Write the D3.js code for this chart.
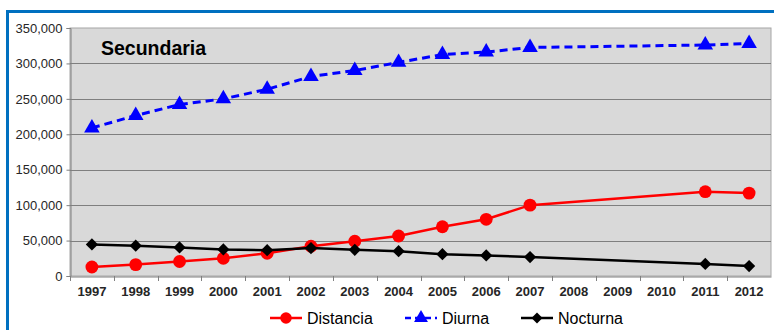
<!DOCTYPE html>
<html>
<head>
<meta charset="utf-8">
<script src="https://cdn.jsdelivr.net/npm/d3@7/dist/d3.min.js"></script>
<style>
  html, body { margin: 0; padding: 0; background: #fff; }
  svg { display: block; font-family: "Liberation Sans", Arial, sans-serif; }
</style>
</head>
<body>
<svg id="chart" width="774" height="330"></svg>
<script>
// Matrícula de secundaria por modalidad, 1997–2012
const years = ["1997","1998","1999","2000","2001","2002","2003","2004","2005","2006","2007","2008","2009","2010","2011","2012"];
const distancia = [12700, 16100, 20400, 25000, 32000, 42000, 49000, 56500, 69500, 80000, 100000, null, null, null, 119000, 117000];
const diurna    = [209000, 226500, 242000, 250000, 263500, 281500, 290000, 301500, 312500, 316000, 322500, null, null, null, 326000, 328000];
const nocturna  = [44500, 42800, 40300, 37500, 36500, 39500, 37000, 35000, 30800, 29000, 26800, null, null, null, 17000, 14000];
const yTicks = [0, 50000, 100000, 150000, 200000, 250000, 300000, 350000];

// Square rotated 45° gives an even-sided diamond marker
const rotatedSquare = {
  draw(ctx, size) {
    const r = Math.sqrt(size / 2);
    ctx.moveTo(0, -r); ctx.lineTo(r, 0); ctx.lineTo(0, r); ctx.lineTo(-r, 0); ctx.closePath();
  }
};

const series = [
  { name: "Distancia", values: distancia, color: "#ff0000", dash: null, symbol: d3.symbolCircle, size: 130 },
  { name: "Diurna",    values: diurna,    color: "#0000ff", dash: "8,5", symbol: d3.symbolTriangle, size: 105 },
  { name: "Nocturna",  values: nocturna,  color: "#000000", dash: null, symbol: rotatedSquare, size: 75 }
];

const svg = d3.select("#chart");
const m = { left: 70, top: 28, right: 771, bottom: 276 };

// Frame around the panel
svg.append("path")
  .attr("d", `M7.5,330 L7.5,11.5 L774,11.5`)
  .attr("fill", "none").attr("stroke", "#0070c0").attr("stroke-width", 3);

const x = d3.scaleBand().domain(years).range([m.left, m.right]);
const y = d3.scaleLinear().domain([0, 350000]).range([m.bottom, m.top]);

// Plot area
svg.append("rect")
  .attr("x", m.left).attr("y", m.top)
  .attr("width", m.right - m.left).attr("height", m.bottom - m.top)
  .attr("fill", "#d9d9d9").attr("stroke", "#a6a6a6").attr("stroke-width", 1);

// Gridlines
svg.append("g").selectAll("line").data(yTicks.slice(1, -1)).join("line")
  .attr("x1", m.left).attr("x2", m.right)
  .attr("y1", d => Math.round(y(d)) + 0.5).attr("y2", d => Math.round(y(d)) + 0.5)
  .attr("stroke", "#7f7f7f").attr("stroke-width", 1);

// Y axis
const yAxis = svg.append("g").attr("transform", `translate(${m.left + 0.5},0)`)
  .call(d3.axisLeft(y).tickValues(yTicks).tickSize(4).tickPadding(4)
    .tickFormat(d3.format(",")));
yAxis.select(".domain").attr("stroke", "#808080");
yAxis.selectAll(".tick line").attr("stroke", "#808080");
yAxis.selectAll("text").attr("font-size", 13).attr("fill", "#262626")
  .attr("font-family", "Liberation Sans, Arial, sans-serif");

// X axis
const xAxis = svg.append("g").attr("transform", `translate(0,${m.bottom + 0.5})`)
  .call(d3.axisBottom(x).tickSize(0).tickPadding(10));
xAxis.select(".domain").attr("stroke", "#808080");
xAxis.selectAll("text").attr("font-size", 13).attr("font-weight", "bold").attr("fill", "#262626")
  .attr("font-family", "Liberation Sans, Arial, sans-serif");
// Category separators on the x axis
svg.append("g").selectAll("line").data(years).join("line")
  .attr("x1", d => Math.round(x(d)) + 0.5).attr("x2", d => Math.round(x(d)) + 0.5)
  .attr("y1", m.bottom).attr("y2", m.bottom + 5)
  .attr("stroke", "#808080");

// Title
svg.append("text").attr("x", 101).attr("y", 55)
  .attr("font-size", 19.5).attr("font-weight", "bold").attr("fill", "#000")
  .text("Secundaria");

const cx = d => x(d) + x.bandwidth() / 2;

series.forEach(s => {
  const pts = years.map((yr, i) => ({ yr, v: s.values[i] })).filter(p => p.v != null);
  const line = d3.line().x(p => cx(p.yr)).y(p => y(p.v));
  svg.append("path").datum(pts)
    .attr("d", line)
    .attr("fill", "none").attr("stroke", s.color)
    .attr("stroke-width", s.dash ? 3 : 2.5)
    .attr("stroke-dasharray", s.dash);
  svg.append("g").selectAll("path").data(pts).join("path")
    .attr("transform", p => `translate(${cx(p.yr)},${y(p.v)})`)
    .attr("d", d3.symbol().type(s.symbol).size(s.size))
    .attr("fill", s.color);
});

// Legend
const legendX = [270, 405, 521];
const leg = svg.append("g");
series.forEach((s, i) => {
  const g = leg.append("g").attr("transform", `translate(${legendX[i]},318)`);
  g.append("line").attr("x1", 0).attr("x2", 32).attr("y1", 0).attr("y2", 0)
    .attr("stroke", s.color).attr("stroke-width", 2.5)
    .attr("stroke-dasharray", s.dash ? "6,4" : null);
  g.append("path").attr("transform", "translate(16,0)")
    .attr("d", d3.symbol().type(s.symbol).size(s.size * 0.8)).attr("fill", s.color);
  g.append("text").attr("x", 37).attr("y", 5.5)
    .attr("font-size", 16).attr("fill", "#000").text(s.name);
});
</script>
</body>
</html>
